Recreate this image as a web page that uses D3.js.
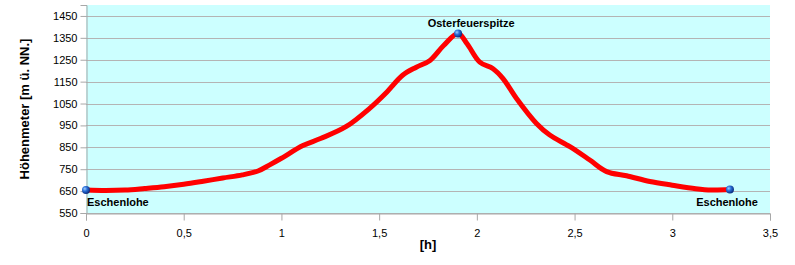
<!DOCTYPE html>
<html>
<head>
<meta charset="utf-8">
<script src="https://cdn.jsdelivr.net/npm/d3@7"></script>
<style>
  body { margin: 0; background: #fff; }
  svg { display: block; font-family: Arial, "Liberation Sans", sans-serif; }
  .tick text { font-size: 11px; fill: #000; }
  .lbl { font-size: 11px; font-weight: bold; fill: #000; }
  .title { font-size: 13px; font-weight: bold; fill: #000; }
</style>
</head>
<body>
<div id="chart"></div>
<script>
// walking time [h] and altitude [m]
var hours = [0, 0.1, 0.2, 0.3, 0.4, 0.5, 0.6, 0.7, 0.8, 0.88, 0.94, 1.0, 1.11, 1.2, 1.33, 1.45, 1.54, 1.62, 1.69, 1.76, 1.83, 1.904,
             1.95, 2.015, 2.083, 2.134, 2.203, 2.305, 2.373, 2.476, 2.578, 2.664, 2.766, 2.885, 3.0, 3.12, 3.2, 3.295];
var altitude = [655, 653, 655, 662, 670, 681, 695, 710, 724, 742, 770, 800, 858, 890, 944, 1027, 1103, 1179, 1216, 1247, 1315, 1370,
                1323, 1239, 1209, 1164, 1073, 959, 906, 853, 792, 739, 720, 694, 677, 661, 655, 657];
var waypoints = [
  { h: 0, m: 655, name: "Eschenlohe", pos: "start" },
  { h: 1.904, m: 1370, name: "Osterfeuerspitze", pos: "top" },
  { h: 3.295, m: 657, name: "Eschenlohe", pos: "end" }
];
var yTicks = [550, 650, 750, 850, 950, 1050, 1150, 1250, 1350, 1450];
var xTicks = [0, 0.5, 1, 1.5, 2, 2.5, 3, 3.5];

var W = 795, H = 265,
    m = { t: 5, r: 25, b: 52, l: 86 },
    w = W - m.l - m.r,
    h = H - m.t - m.b;

var svg = d3.select("#chart").append("svg")
    .attr("width", W)
    .attr("height", H);

var defs = svg.append("defs");
var grad = defs.append("radialGradient")
    .attr("id", "ball")
    .attr("cx", "35%").attr("cy", "35%").attr("r", "65%");
grad.append("stop").attr("offset", "0%").attr("stop-color", "#9fd0ff");
grad.append("stop").attr("offset", "45%").attr("stop-color", "#2a6fd8");
grad.append("stop").attr("offset", "100%").attr("stop-color", "#0b2f80");

var g = svg.append("g")
    .attr("transform", "translate(" + m.l + "," + m.t + ")");

var x = d3.scaleLinear().domain([0, 3.5]).range([0, w]),
    y = d3.scaleLinear().domain([550, 1500]).range([h, 0]);

g.append("rect")
    .attr("width", w)
    .attr("height", h)
    .attr("fill", "#ccffff");

// horizontal grid
g.selectAll(".grid")
    .data(yTicks)
  .enter().append("line")
    .attr("class", "grid")
    .attr("x1", 0).attr("x2", w)
    .attr("y1", function(d) { return Math.round(y(d)) + 0.5; })
    .attr("y2", function(d) { return Math.round(y(d)) + 0.5; })
    .attr("stroke", "#b4b4b4");

var fmt = function(d) { return String(d).replace(".", ","); };

var axisY = d3.axisLeft(y).tickValues(yTicks).tickFormat(String).tickSize(6).tickPadding(3);
var axisX = d3.axisBottom(x).tickValues(xTicks).tickFormat(fmt).tickSize(7).tickPadding(9);

g.append("g")
    .attr("class", "axis")
    .attr("transform", "translate(0.5,0)")
    .call(axisY);
g.append("g")
    .attr("class", "axis")
    .attr("transform", "translate(0," + (h + 0.5) + ")")
    .call(axisX);
g.selectAll(".axis path, .axis line").attr("stroke", "#a8a8a8");
g.selectAll(".axis text").attr("font-family", "Arial, 'Liberation Sans', sans-serif");

// profile line
var pts = hours.map(function(d, i) { return [d, altitude[i]]; });
var line = d3.line()
    .x(function(d) { return x(d[0]); })
    .y(function(d) { return y(d[1]); })
    .curve(d3.curveCatmullRom.alpha(0.5));

g.append("path")
    .datum(pts)
    .attr("d", line)
    .attr("fill", "none")
    .attr("stroke", "#ff0000")
    .attr("stroke-width", 5)
    .attr("stroke-linejoin", "round")
    .attr("stroke-linecap", "round");

// waypoint markers and labels
g.selectAll(".wp")
    .data(waypoints)
  .enter().append("circle")
    .attr("class", "wp")
    .attr("cx", function(d) { return x(d.h); })
    .attr("cy", function(d) { return y(d.m); })
    .attr("r", 4)
    .attr("fill", "url(#ball)");

g.selectAll(".wplbl")
    .data(waypoints)
  .enter().append("text")
    .attr("class", "lbl")
    .attr("x", function(d) {
      if (d.pos === "start") return x(d.h) + 1;
      if (d.pos === "end") return x(d.h) + 28;
      return x(d.h) + 13;
    })
    .attr("y", function(d) { return d.pos === "top" ? y(d.m) - 6 : y(d.m) + 16; })
    .attr("text-anchor", function(d) {
      return d.pos === "start" ? "start" : d.pos === "end" ? "end" : "middle";
    })
    .text(function(d) { return d.name; });

// axis titles
svg.append("text")
    .attr("class", "title")
    .attr("transform", "translate(29," + (m.t + h / 2) + ") rotate(-90)")
    .attr("text-anchor", "middle")
    .text("Höhenmeter [m ü. NN.]");

svg.append("text")
    .attr("class", "title")
    .attr("x", m.l + x(1.75))
    .attr("y", 249)
    .attr("text-anchor", "middle")
    .text("[h]");
</script>
</body>
</html>
